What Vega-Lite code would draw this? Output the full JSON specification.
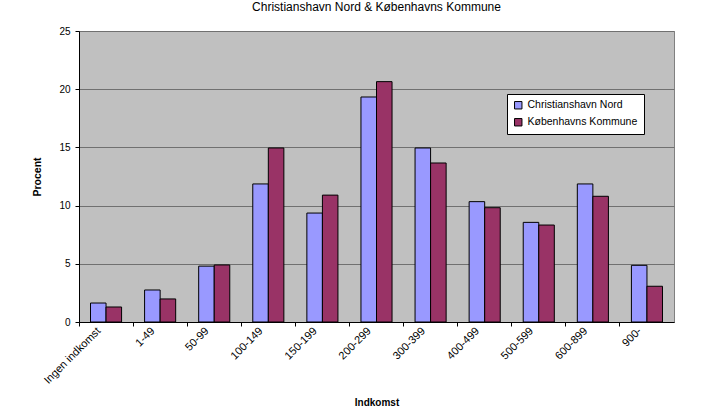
{
  "$schema": "https://vega.github.io/schema/vega-lite/v6.json",
  "width": 595,
  "height": 291,
  "autosize": {"type": "none"},
  "padding": {"left": 79, "top": 31, "right": 39, "bottom": 94},
  "background": "white",
  "title": {
    "text": "Christianshavn Nord & Københavns Kommune",
    "font": "Liberation Sans",
    "fontSize": 12,
    "fontWeight": "normal",
    "color": "black",
    "baseline": "alphabetic",
    "offset": 15,
    "dy": 12,
    "anchor": "middle"
  },
  "data": {
    "values": [
      {"Indkomst": "Ingen indkomst", "Serie": "Christianshavn Nord", "Procent": 1.63},
      {"Indkomst": "Ingen indkomst", "Serie": "Københavns Kommune", "Procent": 1.29},
      {"Indkomst": "1-49", "Serie": "Christianshavn Nord", "Procent": 2.75},
      {"Indkomst": "1-49", "Serie": "Københavns Kommune", "Procent": 1.98},
      {"Indkomst": "50-99", "Serie": "Christianshavn Nord", "Procent": 4.8},
      {"Indkomst": "50-99", "Serie": "Københavns Kommune", "Procent": 4.9},
      {"Indkomst": "100-149", "Serie": "Christianshavn Nord", "Procent": 11.86},
      {"Indkomst": "100-149", "Serie": "Københavns Kommune", "Procent": 14.95},
      {"Indkomst": "150-199", "Serie": "Christianshavn Nord", "Procent": 9.36},
      {"Indkomst": "150-199", "Serie": "Københavns Kommune", "Procent": 10.9},
      {"Indkomst": "200-299", "Serie": "Christianshavn Nord", "Procent": 19.33},
      {"Indkomst": "200-299", "Serie": "Københavns Kommune", "Procent": 20.65},
      {"Indkomst": "300-399", "Serie": "Christianshavn Nord", "Procent": 14.95},
      {"Indkomst": "300-399", "Serie": "Københavns Kommune", "Procent": 13.66},
      {"Indkomst": "400-499", "Serie": "Christianshavn Nord", "Procent": 10.34},
      {"Indkomst": "400-499", "Serie": "Københavns Kommune", "Procent": 9.82},
      {"Indkomst": "500-599", "Serie": "Christianshavn Nord", "Procent": 8.56},
      {"Indkomst": "500-599", "Serie": "Københavns Kommune", "Procent": 8.33},
      {"Indkomst": "600-899", "Serie": "Christianshavn Nord", "Procent": 11.86},
      {"Indkomst": "600-899", "Serie": "Københavns Kommune", "Procent": 10.8},
      {"Indkomst": "900-", "Serie": "Christianshavn Nord", "Procent": 4.87},
      {"Indkomst": "900-", "Serie": "Københavns Kommune", "Procent": 3.07}
    ]
  },
  "mark": {"type": "bar", "stroke": "black", "strokeWidth": 1},
  "encoding": {
    "x": {
      "field": "Indkomst",
      "type": "nominal",
      "sort": null,
      "scale": {"paddingInner": 0, "paddingOuter": 0},
      "axis": {
        "title": "Indkomst",
        "titleFont": "Liberation Sans",
        "titleFontSize": 10,
        "titleFontWeight": "bold",
        "titleColor": "black",
        "titlePadding": 12,
        "labelFont": "Liberation Sans",
        "labelFontSize": 11,
        "labelColor": "black",
        "labelAngle": -45,
        "labelAlign": "right",
        "labelBaseline": "middle",
        "labelPadding": 3,
        "labelOffset": -7,
        "bandPosition": 0,
        "domainColor": "black",
        "tickColor": "black",
        "tickSize": 4,
        "grid": false
      }
    },
    "xOffset": {
      "field": "Serie",
      "type": "nominal",
      "scale": {"paddingInner": 0, "paddingOuter": 0.74}
    },
    "y": {
      "field": "Procent",
      "type": "quantitative",
      "scale": {"domain": [0, 25], "nice": false},
      "axis": {
        "title": "Procent",
        "titleFont": "Liberation Sans",
        "titleFontSize": 10.5,
        "titleFontWeight": "bold",
        "titleColor": "black",
        "titlePadding": 16,
        "labelFont": "Liberation Sans",
        "labelFontSize": 10,
        "labelColor": "black",
        "labelPadding": 5,
        "values": [0, 5, 10, 15, 20, 25],
        "domainColor": "black",
        "tickColor": "black",
        "tickSize": 4,
        "grid": true,
        "gridColor": "#707070",
        "gridWidth": 1
      }
    },
    "color": {
      "field": "Serie",
      "type": "nominal",
      "scale": {"domain": ["Christianshavn Nord", "Københavns Kommune"], "range": ["#9999FF", "#993366"]},
      "legend": {
        "title": null,
        "orient": "none",
        "legendX": 428,
        "legendY": 63,
        "symbolType": "square",
        "symbolSize": 55,
        "symbolStrokeColor": "black",
        "symbolStrokeWidth": 1,
        "labelFont": "Liberation Sans",
        "labelFontSize": 10.5,
        "labelColor": "black",
        "rowPadding": 5,
        "padding": 6,
        "fillColor": "white",
        "strokeColor": "black",
        "labelLimit": 200
      }
    }
  },
  "config": {
    "view": {"fill": "#C0C0C0", "stroke": "#808080", "strokeWidth": 1}
  }
}
